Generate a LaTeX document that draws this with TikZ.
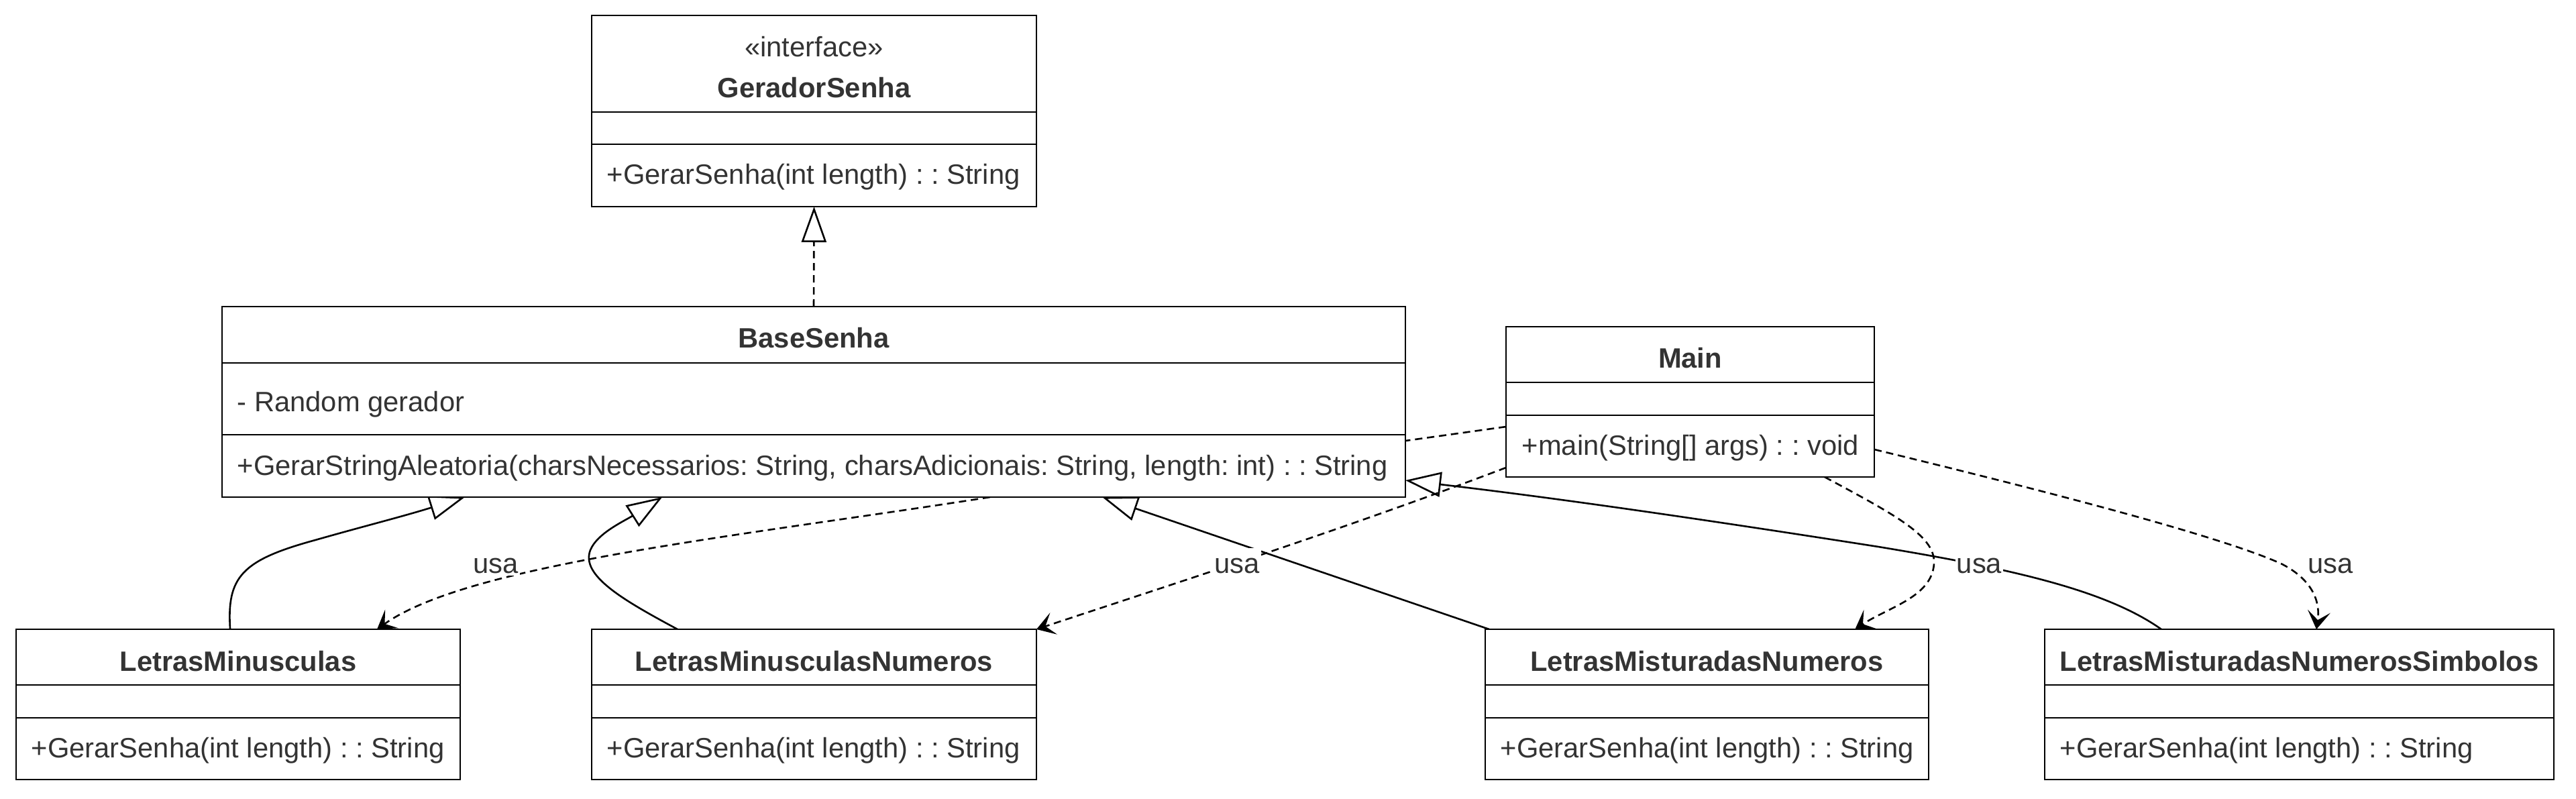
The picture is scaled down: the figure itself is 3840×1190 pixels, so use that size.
\documentclass[tikz,border=0pt]{standalone}
\usepackage{fontspec}
\setmainfont{Liberation Sans}
\usetikzlibrary{arrows.meta,calc}
\pgfdeclarelayer{bg}
\pgfdeclarelayer{edges}
\pgfsetlayers{bg,edges,main}
\definecolor{txtc}{HTML}{333333}
\frenchspacing
\begin{document}
\begin{tikzpicture}[x=0.25pt,y=-0.25pt,
  comp/.style={draw=black, fill=white, line width=0.65pt, inner sep=0pt, outer sep=0pt, anchor=north west, minimum height=#1},
  wd/.style={minimum width=#1},
  tx/.style={text=txtc, inner sep=0pt, font=\fontsize{10.43}{12.5}\selectfont},
  nm/.style={tx, anchor=base, font=\fontsize{10.43}{12.5}\selectfont\bfseries},
  mt/.style={tx, anchor=base west},
  lbl/.style={tx, anchor=base, fill=white, inner xsep=0.5pt, inner ysep=0pt, text height=9.2pt, text depth=1pt},
  edge/.style={line width=0.65pt, draw=black},
  dsh/.style={dash pattern=on 2.75pt off 1.75pt},
  dep/.style={edge, dsh, -{Stealth[length=6.75pt, width=8.5pt, inset=3.25pt]}},
  gen/.style={edge, -{Triangle[open, length=13.25pt, width=9.25pt]}},
  real/.style={edge, dsh, -{Triangle[open, length=13.25pt, width=9.25pt]}}
]
\frenchspacing
\useasboundingbox (0,0) rectangle (3840,1190);
\begin{pgfonlayer}{bg}
\fill[white] (0,0) rectangle (3840,1190);
\end{pgfonlayer}

% GeradorSenha
\node[comp=36pt, wd=165.75pt] (gsH) at (882,23) {};
\node[comp=12pt, wd=165.75pt] (gsA) at (gsH.south west) {};
\node[comp=23.25pt, wd=165.75pt] (gsM) at (gsA.south west) {};
\node[tx, anchor=base] (gsS) at (1213.5,84) {«interface»};
\node[nm] (gsN) at (1213.5,145) {GeradorSenha};
\node[mt] (gsT) at (904,274.6) {+GerarSenha(int length) : : String};

% BaseSenha
\node[comp=21pt, wd=441pt] (bsH) at (331,457) {};
\node[comp=26.75pt, wd=441pt] (bsA) at (bsH.south west) {};
\node[comp=23.25pt, wd=441pt] (bsM) at (bsA.south west) {};
\node[nm] (bsN) at (1213,518.6) {BaseSenha};
\node[mt] (bsF) at (353,613) {- Random gerador};
\node[mt] (bsT) at (353,708) {+GerarStringAleatoria(charsNecessarios: String, charsAdicionais: String, length: int) : : String};

% Main
\node[comp=20.75pt, wd=137.25pt] (mainH) at (2245,487) {};
\node[comp=12.25pt, wd=137.25pt] (mainA) at (mainH.south west) {};
\node[comp=23pt, wd=137.25pt] (mainM) at (mainA.south west) {};
\node[nm] (mainN) at (2519.5,548.6) {Main};
\node[mt] (mainT) at (2268,678.6) {+main(String[] args) : : void};

% LetrasMinusculas
\node[comp=20.75pt, wd=165.5pt] (lmH) at (24,938) {};
\node[comp=12.25pt, wd=165.5pt] (lmA) at (lmH.south west) {};
\node[comp=23pt, wd=165.5pt] (lmM) at (lmA.south west) {};
\node[nm] (lmN) at (355,1000) {LetrasMinusculas};
\node[mt] (lmT) at (46,1129.5) {+GerarSenha(int length) : : String};

% LetrasMinusculasNumeros
\node[comp=20.75pt, wd=165.75pt] (lmnH) at (882,938) {};
\node[comp=12.25pt, wd=165.75pt] (lmnA) at (lmnH.south west) {};
\node[comp=23pt, wd=165.75pt] (lmnM) at (lmnA.south west) {};
\node[nm] (lmnN) at (1213.5,1000) {LetrasMinusculasNumeros};
\node[mt] (lmnT) at (904,1129.5) {+GerarSenha(int length) : : String};

% LetrasMisturadasNumeros
\node[comp=20.75pt, wd=165.25pt] (lmisnH) at (2214,938) {};
\node[comp=12.25pt, wd=165.25pt] (lmisnA) at (lmisnH.south west) {};
\node[comp=23pt, wd=165.25pt] (lmisnM) at (lmisnA.south west) {};
\node[nm] (lmisnN) at (2544.5,1000) {LetrasMisturadasNumeros};
\node[mt] (lmisnT) at (2236,1129.5) {+GerarSenha(int length) : : String};

% LetrasMisturadasNumerosSimbolos
\node[comp=20.75pt, wd=189.75pt] (lmnsH) at (3048,938) {};
\node[comp=12.25pt, wd=189.75pt] (lmnsA) at (lmnsH.south west) {};
\node[comp=23pt, wd=189.75pt] (lmnsM) at (lmnsA.south west) {};
\node[nm] (lmnsN) at (3427.5,1000) {LetrasMisturadasNumerosSimbolos};
\node[mt] (lmnsT) at (3070,1129.5) {+GerarSenha(int length) : : String};

\begin{pgfonlayer}{edges}
% realization
\draw[real] (bsH.north) -- (gsM.south);
% generalizations
\draw[gen] ($(lmH.north west)!0.482!(lmH.north east)$) .. controls (338,860) and (360,835) .. (470,805) .. controls (540,785) and (600,770) .. ($(bsM.south west)!0.2052!(bsM.south east)$);
\draw[gen] ($(lmnH.north west)!0.193!(lmnH.north east)$) .. controls (930,895) and (865,858) .. (880,820) .. controls (890,795) and (930,777) .. ($(bsM.south west)!0.372!(bsM.south east)$);
\draw[gen] ($(lmisnH.north west)!0.009!(lmisnH.north east)$) -- ($(bsM.south west)!0.7438!(bsM.south east)$);
\draw[gen] ($(lmnsH.north west)!0.229!(lmnsH.north east)$) .. controls (3140,880) and (3000,848) .. (2800,815) .. controls (2500,768) and (2300,740) .. ($(bsM.north east)!0.731!(bsM.south east)$);
% dependencies
\draw[dep] ($(bsM.south west)!0.649!(bsM.south east)$) .. controls (1100,800) and (700,840) .. ($(lmH.north west)!0.8127!(lmH.north east)$);
\draw[dep] ($(mainM.north west)!0.848!(mainM.south west)$) .. controls (2000,790) and (1750,870) .. (lmnH.north east);
\draw[edge, dsh] ($(mainM.north west)!0.185!(mainM.south west)$) -- ($(bsM.north east)!0.097!(bsM.south east)$);
\draw[dep] ($(mainM.south west)!0.865!(mainM.south east)$) .. controls (2830,770) and (2885,800) .. (2883,840) .. controls (2880,890) and (2815,905) .. ($(lmisnH.north west)!0.834!(lmisnH.north east)$);
\draw[dep] ($(mainM.north east)!0.554!(mainM.south east)$) .. controls (3000,720) and (3300,795) .. (3400,840) .. controls (3440,860) and (3460,890) .. ($(lmnsH.north west)!0.5336!(lmnsH.north east)$);
\end{pgfonlayer}

% labels
\node[lbl] (u1) at (739,854) {usa};
\node[lbl] (u2) at (1844,854) {usa};
\node[lbl] (u3) at (2950.5,854) {usa};
\node[lbl] (u4) at (3474,854) {usa};
\end{tikzpicture}
\end{document}
